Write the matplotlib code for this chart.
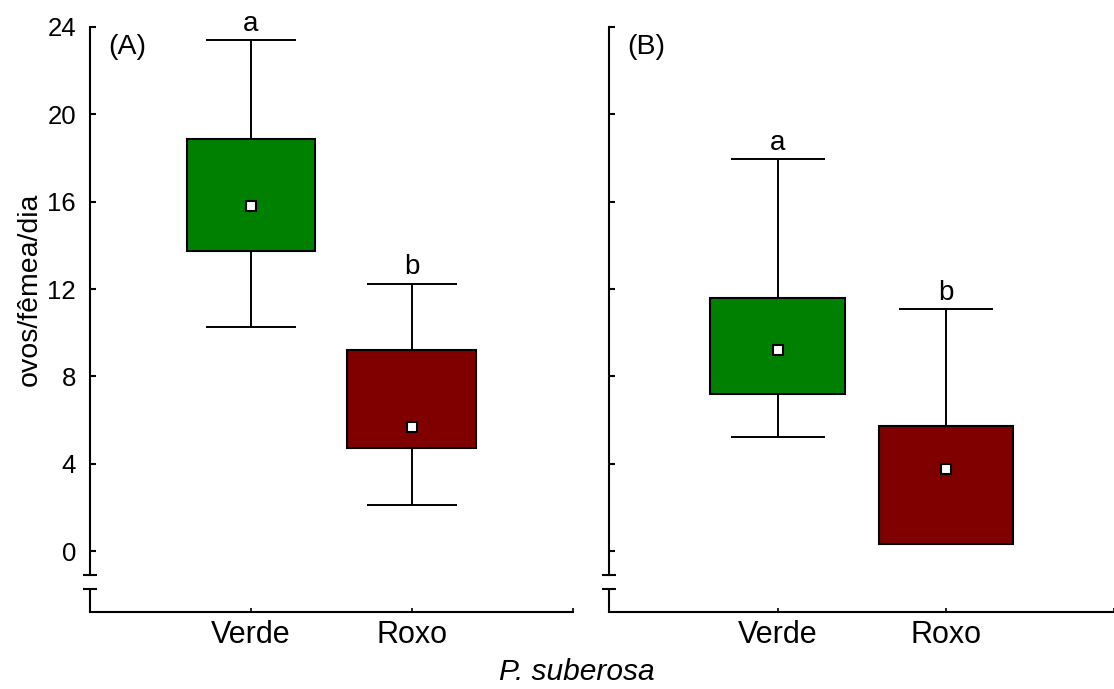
import matplotlib
matplotlib.use("Agg")
import matplotlib.pyplot as plt

plt.rcParams["font.family"] = ["Liberation Sans", "DejaVu Sans"]

# ---- data -------------------------------------------------------------
categories = ["Verde", "Roxo"]
panel_labels = ["(A)", "(B)"]
x_title = "P. suberosa"
y_title = "ovos/fêmea/dia"
y_ticks = [0, 4, 8, 12, 16, 20, 24]

# panel A
a_min = [10.26, 2.11]
a_q1 = [13.76, 4.70]
a_mean = [15.82, 5.67]
a_q3 = [18.87, 9.21]
a_max = [23.39, 12.23]
a_letters = ["a", "b"]

# panel B
b_min = [5.21, 0.32]
b_q1 = [7.21, 0.32]
b_mean = [9.19, 3.74]
b_q3 = [11.58, 5.73]
b_max = [17.94, 11.07]
b_letters = ["a", "b"]

box_colors = ["#008000", "#800000"]

# ---- figure -----------------------------------------------------------
W, H = 1114, 689
fig = plt.figure(figsize=(W / 100, H / 100), dpi=100)

y_low, y_top = -2.78, 24
break_hi, break_lo = -1.10, -1.75

ax_a = fig.add_axes([90 / W, (H - 611.7) / H, 482.7 / W, 584.7 / H])
ax_b = fig.add_axes([609.3 / W, (H - 611.7) / H, 505 / W, 584.7 / H])

panels = [
    (ax_a, a_min, a_q1, a_mean, a_q3, a_max, a_letters, 482.7, True),
    (ax_b, b_min, b_q1, b_mean, b_q3, b_max, b_letters, 505.0, False),
]

for i, (ax, mn, q1, mean, q3, mx, letters, wpx, show_y) in enumerate(panels):
    pos = [1, 2]
    ax.set_xlim(0, 3)
    ax.set_ylim(y_low, y_top)

    # boxes
    heights = [hi - lo for hi, lo in zip(q3, q1)]
    ax.bar(pos, heights, bottom=q1, width=0.8, color=box_colors,
           edgecolor="black", linewidth=1.5, zorder=2)
    # whiskers and caps
    for p, lo, b1, b3, hi in zip(pos, mn, q1, q3, mx):
        ax.vlines(p, b3, hi, color="black", lw=1.4, zorder=1)
        ax.hlines(hi, p - 0.28, p + 0.28, color="black", lw=1.4, zorder=1)
        if lo < b1:
            ax.vlines(p, lo, b1, color="black", lw=1.4, zorder=1)
            ax.hlines(lo, p - 0.28, p + 0.28, color="black", lw=1.4, zorder=1)
    # mean markers
    ax.plot(pos, mean, "s", ms=7.5, mfc="white", mec="black", mew=1.5,
            ls="none", zorder=4)
    # significance letters
    for p, hi, let in zip(pos, mx, letters):
        ax.annotate(let, (p, hi), xytext=(0, 7), textcoords="offset points",
                    ha="center", va="baseline", fontsize=20,
                    annotation_clip=False)

    # spines with a broken y axis
    for side in ("top", "right"):
        ax.spines[side].set_visible(False)
    ax.spines["left"].set_linewidth(1.5)
    ax.spines["bottom"].set_linewidth(1.5)
    ax.spines["left"].set_bounds(break_hi, y_top)
    trans = ax.get_yaxis_transform()
    ax.plot([0, 0], [y_low, break_lo], transform=trans, color="black",
            lw=1.5, clip_on=False, solid_capstyle="butt")
    dx = 7 / wpx
    for yb in (break_hi, break_lo):
        ax.plot([-dx, dx], [yb, yb], transform=trans, color="black",
                lw=1.5, clip_on=False, solid_capstyle="butt")

    ax.set_yticks(y_ticks)
    ax.tick_params(axis="y", direction="in", length=4.5, width=1.5, pad=10,
                   labelsize=18.5, labelleft=show_y)
    ax.set_xticks([1, 2, 3])
    ax.set_xticklabels(categories + [""])
    ax.tick_params(axis="x", direction="in", length=3, width=1.2, pad=6,
                   labelsize=22)

    ax.text(18 / wpx, (611.7 - 53.5) / 584.7, panel_labels[i],
            transform=ax.transAxes, ha="left", va="baseline", fontsize=20.5)

fig.text(29.5 / W, 1 - 289 / H, y_title, rotation=90, ha="center",
         va="center", fontsize=20.5)
fig.text(577 / W, 1 - 680 / H, x_title, style="italic", ha="center",
         va="baseline", fontsize=21.5)

fig.savefig("out.png", dpi=100)
